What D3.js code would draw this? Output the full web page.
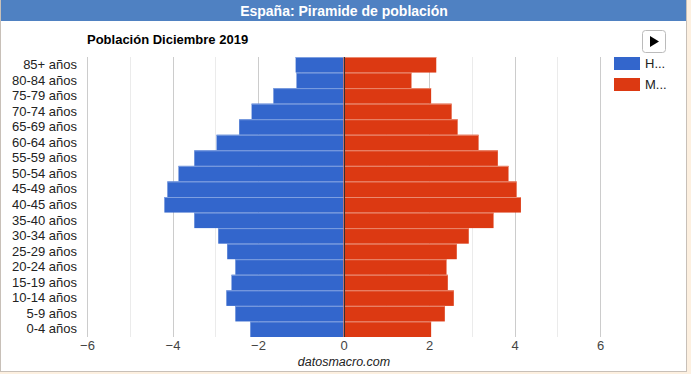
<!DOCTYPE html>
<head>
  <meta charset="utf-8">
  <title>España: Piramide de población</title>
  <script src="https://cdn.jsdelivr.net/npm/d3@7/dist/d3.min.js"></script>
  <style>
    body { margin: 0; background: #fdf0e0; font-family: "Liberation Sans", Arial, sans-serif; }
  </style>
</head>
<body>
<div id="container"></div>
<script>

  // grupos de edad (de arriba abajo)
  let ageGroups = ["85+ años", "80-84 años", "75-79 años", "70-74 años", "65-69 años", "60-64 años",
    "55-59 años", "50-54 años", "45-49 años", "40-45 años", "35-40 años", "30-34 años",
    "25-29 años", "20-24 años", "15-19 años", "10-14 años", "5-9 años", "0-4 años"];

  // % de población, hombres en negativo
  let hombres = [-1.12, -1.10, -1.64, -2.15, -2.44, -2.97, -3.49, -3.86, -4.12, -4.19,
    -3.49, -2.93, -2.72, -2.53, -2.62, -2.74, -2.53, -2.18];
  let mujeres = [2.17, 1.59, 2.05, 2.53, 2.67, 3.16, 3.61, 3.86, 4.05, 4.15,
    3.51, 2.93, 2.65, 2.41, 2.44, 2.58, 2.37, 2.05];

  let seriesNames = ["Hombres", "Mujeres"];
  let colors = ["#3366cc", "#dc3912"];
  let tickValues = [-6, -4, -2, 0, 2, 4, 6];
  let minorValues = [-5, -3, -1, 1, 3, 5];

  let svg_width = 691;
  let svg_height = 374;

  let padding = { top: 57, right: 91, bottom: 37, left: 87 };

  let svg = d3.select("#container").append("svg")
          .attr("width", svg_width)
          .attr("height", svg_height)
          .style("display", "block");

  // marco blanco
  svg.append("rect")
          .attr("x", 0.5).attr("y", 0.5)
          .attr("width", 686).attr("height", 371)
          .attr("fill", "#ffffff")
          .attr("stroke", "#c8c0b8");

  // cabecera
  svg.append("rect")
          .attr("x", 1).attr("y", 0)
          .attr("width", 685).attr("height", 21)
          .attr("fill", "#4f81c2");

  svg.append("text")
          .attr("x", 344)
          .attr("y", 15.5)
          .attr("text-anchor", "middle")
          .style("font-size", "14px")
          .style("font-weight", "bold")
          .style("fill", "#ffffff")
          .text("España: Piramide de población");

  let xScale = d3.scaleLinear()
          .domain([-6, 6])
          .range([padding.left, 600]);

  let yScale = d3.scaleBand()
          .domain(ageGroups)
          .range([padding.top, svg_height - padding.bottom])
          .padding(0);

  // rejilla
  svg.selectAll(".minor")
          .data(minorValues)
          .enter()
          .append("line")
          .attr("x1", d => Math.round(xScale(d)) + 0.5)
          .attr("x2", d => Math.round(xScale(d)) + 0.5)
          .attr("y1", padding.top)
          .attr("y2", svg_height - padding.bottom)
          .attr("stroke", "#ebebeb");

  svg.selectAll(".major")
          .data(tickValues)
          .enter()
          .append("line")
          .attr("x1", d => Math.round(xScale(d)) + 0.5)
          .attr("x2", d => Math.round(xScale(d)) + 0.5)
          .attr("y1", padding.top)
          .attr("y2", svg_height - padding.bottom)
          .attr("stroke", "#cccccc");

  // barras
  let rows = ageGroups.map((g, i) => ({ group: g, h: hombres[i], m: mujeres[i] }));

  svg.selectAll(".bar-h")
          .data(rows)
          .enter()
          .append("rect")
          .attr("x", d => xScale(d.h))
          .attr("y", d => yScale(d.group))
          .attr("width", d => xScale(0) - xScale(d.h))
          .attr("height", yScale.bandwidth())
          .attr("fill", colors[0]);

  svg.selectAll(".bar-m")
          .data(rows)
          .enter()
          .append("rect")
          .attr("x", xScale(0))
          .attr("y", d => yScale(d.group))
          .attr("width", d => xScale(d.m) - xScale(0))
          .attr("height", yScale.bandwidth())
          .attr("fill", colors[1]);

  // bordes claros entre barras
  svg.selectAll(".sep-h")
          .data(rows)
          .enter()
          .append("line")
          .attr("x1", d => xScale(d.h))
          .attr("x2", xScale(0))
          .attr("y1", d => yScale(d.group) + 0.5)
          .attr("y2", d => yScale(d.group) + 0.5)
          .attr("stroke", "#7e9fe0");

  svg.selectAll(".sep-m")
          .data(rows)
          .enter()
          .append("line")
          .attr("x1", xScale(0))
          .attr("x2", d => xScale(d.m))
          .attr("y1", d => yScale(d.group) + 0.5)
          .attr("y2", d => yScale(d.group) + 0.5)
          .attr("stroke", "#ea8a70");

  // eje cero
  svg.append("line")
          .attr("x1", Math.round(xScale(0)) + 0.5)
          .attr("x2", Math.round(xScale(0)) + 0.5)
          .attr("y1", padding.top)
          .attr("y2", svg_height - padding.bottom)
          .attr("stroke", "#333333");

  // etiquetas de edad
  let y_axis = d3.axisLeft(yScale).tickSize(0).tickPadding(0);
  let gy = svg.append("g")
          .attr("transform", "translate(77,0)")
          .call(y_axis);
  gy.select(".domain").remove();
  gy.selectAll("text")
          .style("font-family", "'Liberation Sans', Arial, sans-serif")
          .style("font-size", "13px")
          .style("fill", "#222222");

  // etiquetas del eje x
  let x_axis = d3.axisBottom(xScale).tickValues(tickValues).tickSize(0).tickPadding(0);
  let gx = svg.append("g")
          .attr("transform", "translate(0," + (svg_height - padding.bottom + 4) + ")")
          .call(x_axis);
  gx.select(".domain").remove();
  gx.selectAll("text")
          .style("font-family", "'Liberation Sans', Arial, sans-serif")
          .style("font-size", "13px")
          .style("fill", "#444444");

  // subtítulo
  svg.append("text")
          .attr("x", padding.left)
          .attr("y", 44)
          .style("font-size", "13px")
          .style("font-weight", "bold")
          .style("fill", "#000000")
          .text("Población Diciembre 2019");

  // fuente
  svg.append("text")
          .attr("x", 344)
          .attr("y", 366)
          .attr("text-anchor", "middle")
          .style("font-size", "12.5px")
          .style("font-style", "italic")
          .style("fill", "#222222")
          .text("datosmacro.com");

  // leyenda
  seriesNames.forEach(function (name, i) {
    svg.append("rect")
            .attr("x", 614)
            .attr("y", 57 + i * 21)
            .attr("width", 26)
            .attr("height", 13)
            .attr("fill", colors[i]);
    svg.append("text")
            .attr("x", 645)
            .attr("y", 68 + i * 21)
            .style("font-size", "13px")
            .style("fill", "#222222")
            .text(name.charAt(0) + "...");
  });

  // botón de reproducción
  svg.append("rect")
          .attr("x", 642.5).attr("y", 30.5)
          .attr("width", 23).attr("height", 22)
          .attr("rx", 3)
          .attr("fill", "#ffffff")
          .attr("stroke", "#bbbbbb");

  svg.append("path")
          .attr("d", "M650,36 L659,41.5 L650,47 Z")
          .attr("fill", "#000000");

</script>
</body>
